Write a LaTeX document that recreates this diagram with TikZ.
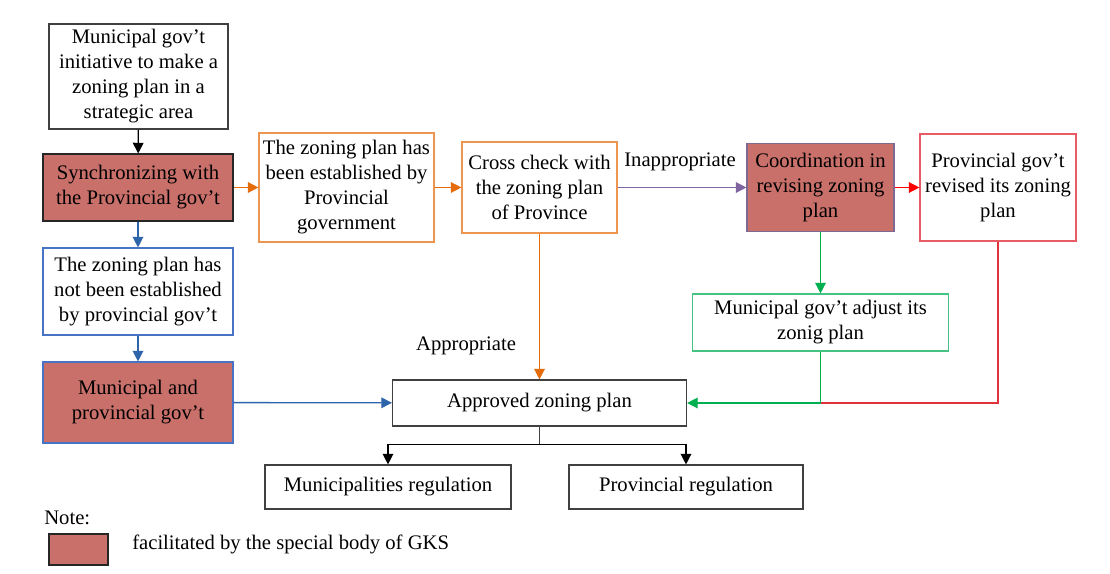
\documentclass[tikz,border=0pt]{standalone}
\usepackage{fontspec}
\setmainfont{Liberation Serif}
\usetikzlibrary{arrows.meta,calc}
\definecolor{gksred}{RGB}{201,112,107}
\definecolor{darkb}{RGB}{64,64,64}
\definecolor{oarrow}{RGB}{228,108,10}
\definecolor{obox}{RGB}{238,150,80}
\definecolor{barrow}{RGB}{46,100,170}
\definecolor{bbox}{RGB}{70,115,195}
\definecolor{parrow}{RGB}{128,100,162}
\definecolor{pbox}{RGB}{125,105,145}
\definecolor{garrow}{RGB}{0,176,80}
\definecolor{gbox}{RGB}{70,195,130}
\definecolor{rarrow}{RGB}{255,0,0}
\definecolor{rbox}{RGB}{232,90,100}
\definecolor{rline}{RGB}{225,50,60}
\tikzset{
  box/.style={draw=darkb, line width=0.85pt, align=center, inner sep=0pt,
    font=\fontsize{15.5}{18.75}\selectfont},
  gks/.style={box, fill=gksred},
  lbl/.style={inner sep=0pt, font=\fontsize{15.5}{18.75}\selectfont},
  conn/.style={line width=1pt, -{Triangle[length=8pt,width=8pt]}},
  plain/.style={line width=1pt}
}
\begin{document}
\begin{tikzpicture}[x=0.75pt,y=-0.75pt]
\useasboundingbox (0,0) rectangle (1110,574);
\fill[white] (0,0) rectangle (1110,574);
% nodes
\node[box, minimum width=134.25pt, minimum height=78.75pt] (b1) at (138.5,76.5)
  {Municipal gov’t\\initiative to make a\\zoning plan in a\\strategic area};
\node[gks, draw=black!85, minimum width=142.5pt, minimum height=50.25pt] (b2) at (138,187.5)
  {Synchronizing with\\the Provincial gov’t};
\node[box, draw=bbox, minimum width=142.5pt, minimum height=65.25pt] (b3) at (138,291.5)
  {The zoning plan has\\not been established\\by provincial gov’t};
\node[gks, draw=bbox, minimum width=142.5pt, minimum height=60.75pt] (b4) at (138,402.5)
  {Municipal and\\provincial gov’t};
\node[box, draw=obox, minimum width=131.25pt, minimum height=81.75pt] (b5) at (346.5,187.5)
  {The zoning plan has\\been established by\\Provincial\\government};
\node[box, draw=obox, minimum width=116.25pt, minimum height=68.25pt] (b6) at (539.5,187.5)
  {Cross check with\\the zoning plan\\of Province};
\node[gks, draw=pbox, minimum width=110.25pt, minimum height=66pt] (b7) at (820.5,187.5)
  {Coordination in\\revising zoning\\plan};
\node[box, draw=rbox, minimum width=117pt, minimum height=80.25pt] (b8) at (998,187.5)
  {Provincial gov’t\\revised its zoning\\plan};
\node[box, draw=gbox, minimum width=192pt, minimum height=42.75pt] (b9) at (820.5,322.5)
  {Municipal gov’t adjust its\\zonig plan};
\node[box, minimum width=220.5pt, minimum height=34.5pt] (appr) at (539.5,403)
  {Approved zoning plan};
\node[box, minimum width=184.5pt, minimum height=33pt] (mreg) at (388,487)
  {Municipalities regulation};
\node[box, minimum width=175.5pt, minimum height=33pt] (preg) at (686,487)
  {Provincial regulation};
% labels
\node[lbl] (inapp) at (680,162) {Inappropriate};
\node[lbl] (app) at (466,346) {Appropriate};
\node[lbl, anchor=west] (note) at (44,517.5) {Note:};
\node[gks, draw=black!85, minimum width=44.25pt, minimum height=23.25pt] (leg) at (78.5,549.5) {};
\node[lbl, anchor=west] (legt) at (132,544) {facilitated by the special body of GKS};
% connectors
\draw[conn, black] (b1) -- (b2);
\draw[conn, oarrow] (b2) -- (b5);
\draw[conn, barrow] (b2) -- (b3);
\draw[conn, barrow] (b3) -- (b4);
\draw[conn, barrow] (b4) -- (appr);
\draw[conn, oarrow] (b5) -- (b6);
\draw[conn, parrow] (b6) -- (b7);
\draw[conn, rarrow] (b7) -- (b8);
\draw[conn, garrow] (b7.south) -- (b7.south |- b9.north);
\draw[conn, oarrow] (b6.south) -- (b6.south |- appr.north);
\coordinate (j) at (b9.south |- appr.east);
\draw[plain, rline] (b8.south) |- (j);
\draw[conn, garrow] (b9.south) -- (j) -- (appr.east);
\coordinate (s) at ($(appr.south)+(0,18)$);
\draw[plain, darkb] (appr.south) -- (s);
\draw[conn, black] (s) -| (mreg.north);
\draw[conn, black] (s) -| (preg.north);
\end{tikzpicture}
\end{document}
